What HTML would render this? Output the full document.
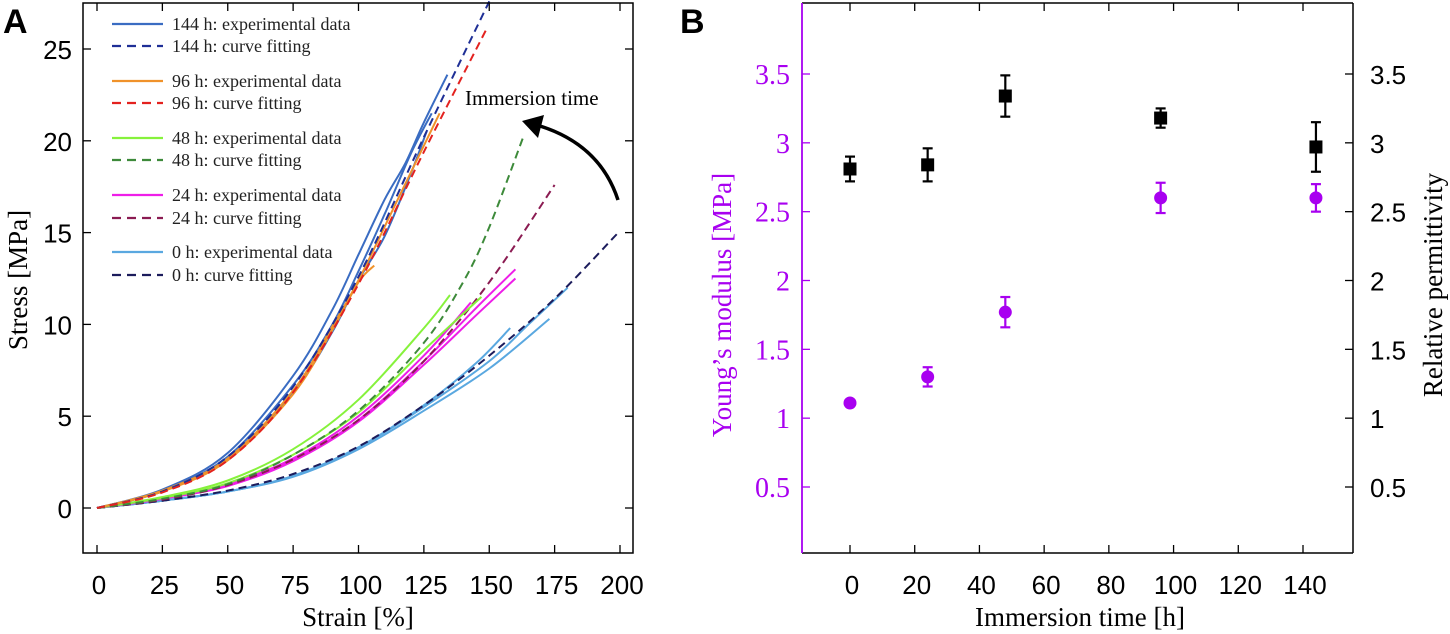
<!DOCTYPE html>
<html><head><meta charset="utf-8">
<style>
html,body{margin:0;padding:0;background:#fff;}
svg{display:block;}
.serif{font-family:"Liberation Serif",serif;}
.sans{font-family:"Liberation Sans",sans-serif;}
</style></head>
<body>
<svg id="fig" width="1450" height="634" viewBox="0 0 1450 634" xmlns="http://www.w3.org/2000/svg"></svg>
<script>
// ---------- Panel A data ----------
const aXTicks = [0,25,50,75,100,125,150,175,200];
const aYTicks = [0,5,10,15,20,25];
const s144a = [[0,0],[25,1.0],[50,3.0],[75,7.2],[90,10.8],[100,13.8],[110,16.8],[118,18.8],[125,21],[134,23.6]];
const s144b = [[0,0],[25,0.95],[50,2.8],[75,6.7],[90,10],[100,12.9],[110,16],[120,19.3],[128,21.5]];
const s144c = [[0,0],[25,0.9],[50,2.7],[75,6.3],[90,9.6],[100,12.4],[110,14.8],[120,18.2],[126,20.5]];
const f144 = [[0,0],[25,0.9],[50,2.8],[75,6.6],[100,12.6],[125,20.2],[150,27.6]];
const s96a = [[0,0],[25,0.95],[50,2.7],[75,6.4],[90,9.9],[100,12.4],[115,16.8],[131,21.5]];
const s96b = [[0,0],[25,0.9],[50,2.6],[75,6.2],[90,9.7],[100,12.3],[106,13.2]];
const f96 = [[0,0],[25,0.85],[50,2.6],[75,6.3],[100,12.2],[125,19.4],[149,26.1]];
const s48a = [[0,0],[25,0.6],[50,1.5],[75,3.2],[100,5.9],[125,9.8],[135,11.6]];
const s48b = [[0,0],[25,0.55],[50,1.35],[75,2.9],[100,5.2],[125,8.6],[147,11.5]];
const f48 = [[0,0],[25,0.5],[50,1.3],[75,2.9],[100,5.3],[125,9.0],[140,12.3],[150,15.3],[163,20.2]];
const s24a = [[0,0],[25,0.5],[50,1.3],[75,2.7],[100,5.0],[125,8.3],[143,11.2]];
const s24b = [[0,0],[25,0.5],[50,1.25],[75,2.6],[100,4.8],[125,8.0],[145,10.9],[160,13.0]];
const s24c = [[0,0],[25,0.5],[50,1.2],[75,2.55],[100,4.7],[125,7.8],[145,10.5],[160,12.5]];
const f24 = [[0,0],[25,0.45],[50,1.25],[75,2.65],[100,4.8],[125,8.0],[150,12.3],[175,17.6]];
const s0a = [[0,0],[25,0.4],[50,0.9],[75,1.7],[100,3.2],[125,5.3],[150,7.6],[173,10.3]];
const s0b = [[0,0],[25,0.4],[50,0.9],[75,1.75],[100,3.3],[125,5.6],[145,7.9],[158,9.8]];
const s0c = [[0,0],[25,0.4],[50,0.9],[75,1.75],[100,3.3],[125,5.5],[150,8.0],[165,10],[180,12]];
const f0 = [[0,0],[25,0.4],[50,0.95],[75,1.85],[100,3.35],[125,5.6],[150,8.3],[175,11.4],[200,15.1]];
// ---------- Panel B data ----------
const bXTicks = [0,20,40,60,80,100,120,140];
const bYTicks = [0.5,1,1.5,2,2.5,3,3.5];
const times = [0,24,48,96,144];
const modulus = [1.11,1.30,1.77,2.60,2.60];
const modulusErr = [0.02,0.07,0.11,0.11,0.10];
const permit = [2.81,2.84,3.34,3.18,2.97];
const permitErr = [0.09,0.12,0.15,0.07,0.18];

const NS='http://www.w3.org/2000/svg';
const svg=document.getElementById('fig');
function mk(tag,attrs,parent){const e=document.createElementNS(NS,tag);for(const k in attrs)e.setAttribute(k,attrs[k]);(parent||svg).appendChild(e);return e;}
function txt(s,attrs,parent){const e=mk('text',attrs,parent);e.textContent=s;return e;}

// ---- Panel A axes ----
const A={l:83,r:633,t:3,b:553};
const ax=v=>97+v*(620-97)/200;
const ay=v=>508-v*(508-49)/25;
const gA=mk('g',{});


aXTicks.forEach(t=>{
  mk('line',{x1:ax(t),x2:ax(t),y1:A.b,y2:A.b-8,stroke:'#000','stroke-width':1.3},gA);
  mk('line',{x1:ax(t),x2:ax(t),y1:A.t,y2:A.t+8,stroke:'#000','stroke-width':1.3},gA);
  const l=txt(String(t),{x:ax(t)+2,y:594,'text-anchor':'middle','font-size':26,class:'sans'},gA);
  
  
});
aYTicks.forEach(t=>{
  mk('line',{x1:A.l,x2:A.l+8,y1:ay(t),y2:ay(t),stroke:'#000','stroke-width':1.3},gA);
  mk('line',{x1:A.r,x2:A.r-8,y1:ay(t),y2:ay(t),stroke:'#000','stroke-width':1.3},gA);
  const l=txt(String(t),{x:72,y:ay(t)+10,'text-anchor':'end','font-size':26,class:'sans'},gA);
  
  
});
function smoothPath(pts){
  const P=pts.map(p=>[ax(p[0]),ay(p[1])]);
  let d='M'+P[0][0].toFixed(1)+' '+P[0][1].toFixed(1);
  for(let i=0;i<P.length-1;i++){
    const p0=P[i-1]||P[i],p1=P[i],p2=P[i+1],p3=P[i+2]||p2;
    const c1=[p1[0]+(p2[0]-p0[0])/6,p1[1]+(p2[1]-p0[1])/6];
    const c2=[p2[0]-(p3[0]-p1[0])/6,p2[1]-(p3[1]-p1[1])/6];
    d+=' C'+c1[0].toFixed(1)+' '+c1[1].toFixed(1)+' '+c2[0].toFixed(1)+' '+c2[1].toFixed(1)+' '+p2[0].toFixed(1)+' '+p2[1].toFixed(1);
  }
  return d;
}
function curve(pts,color,dash,w,name){
  const p=mk('path',{d:smoothPath(pts),fill:'none',stroke:color,'stroke-width':w||2,'stroke-dasharray':dash?'8 5':'none','stroke-linejoin':'round'},gA);
  
  
}
const C144='#3a6cc2',F144='#1f2f96',C96='#f0922a',F96='#e3221f',C48='#86f23c',F48='#3d8a3a',C24='#ee1ee8',F24='#8b1b52',C0='#5aa8e0',F0='#1c1c5c';
curve(s0a,C0,false,2,'curve-0h-exp');curve(s0b,C0,false,2,'curve-0h-exp');curve(s0c,C0,false,2,'curve-0h-exp');
curve(f0,F0,true,2,'curve-0h-fit');
curve(s24a,C24,false,2,'curve-24h-exp');curve(s24b,C24,false,2,'curve-24h-exp');curve(s24c,C24,false,2,'curve-24h-exp');
curve(f24,F24,true,2,'curve-24h-fit');
curve(s48a,C48,false,2,'curve-48h-exp');curve(s48b,C48,false,2,'curve-48h-exp');
curve(f48,F48,true,2,'curve-48h-fit');
curve(s144a,C144,false,2,'curve-144h-exp');curve(s144b,C144,false,2,'curve-144h-exp');curve(s144c,C144,false,2,'curve-144h-exp');
curve(s96a,C96,false,2,'curve-96h-exp');curve(s96b,C96,false,2,'curve-96h-exp');
curve(f144,F144,true,2,'curve-144h-fit');
curve(f96,F96,true,2,'curve-96h-fit');
mk('rect',{x:A.l,y:A.t,width:A.r-A.l,height:A.b-A.t,fill:'none',stroke:'#000','stroke-width':1.5},gA);
// legend
const legend=[['144 h: experimental data',C144,0],['144 h: curve fitting',F144,1],['96 h: experimental data',C96,0],['96 h: curve fitting',F96,1],['48 h: experimental data',C48,0],['48 h: curve fitting',F48,1],['24 h: experimental data',C24,0],['24 h: curve fitting',F24,1],['0 h: experimental data',C0,0],['0 h: curve fitting',F0,1]];
const legY=[24,46,81,103,138,160,195,218,252,275];
const gL=mk('g',{},gA);


legend.forEach((e,i)=>{
  const g=mk('g',{},gL);
  
  
  mk('line',{x1:112,x2:163,y1:legY[i],y2:legY[i],stroke:e[1],'stroke-width':2.2,'stroke-dasharray':e[2]?'9 6':'none'},g);
  txt(e[0],{x:172,y:legY[i]+6,'font-size':18,class:'serif',fill:'#222'},g);
});
const arr=mk('path',{d:'M618 200 Q600 145 540 126',fill:'none',stroke:'#000','stroke-width':3.5},gA);


mk('polygon',{points:'522,121 544,115 538,138',fill:'#000'},gA);
const it=txt('Immersion time',{x:465,y:105,'font-size':21,class:'serif'},gA);


const xt=txt('Strain [%]',{x:358,y:626,'text-anchor':'middle','font-size':27,class:'serif'},gA);


const yt=txt('Stress [MPa]',{x:0,y:0,'text-anchor':'middle','font-size':27,class:'serif',transform:'translate(27,280) rotate(-90)'},gA);


const la=txt('A',{x:3,y:33,'font-size':34,'font-weight':'bold',class:'sans'},gA);



// ---- Panel B ----
const B={l:802,r:1353,t:3,b:553};
const bx=v=>850+v*(1303-850)/140;
const by=v=>74+(3.5-v)*(487-74)/3;
const PUR='#a800f0';
const gB=mk('g',{});


bXTicks.forEach(t=>{
  mk('line',{x1:bx(t),x2:bx(t),y1:B.b,y2:B.b-8,stroke:'#000','stroke-width':1.3},gB);
  mk('line',{x1:bx(t),x2:bx(t),y1:B.t,y2:B.t+8,stroke:'#000','stroke-width':1.3},gB);
  const l=txt(String(t),{x:bx(t)+2,y:594,'text-anchor':'middle','font-size':26,class:'sans'},gB);
  
  
});
bYTicks.forEach(t=>{
  mk('line',{x1:B.l,x2:B.l+8,y1:by(t),y2:by(t),stroke:PUR,'stroke-width':1.3},gB);
  mk('line',{x1:B.r,x2:B.r-8,y1:by(t),y2:by(t),stroke:'#000','stroke-width':1.3},gB);
  const l=txt(String(t),{x:790,y:by(t)+10,'text-anchor':'end','font-size':28,class:'serif',fill:PUR},gB);
  
  
  const r=txt(String(t),{x:1370,y:by(t)+10,'text-anchor':'start','font-size':26,class:'sans'},gB);
  
  
});
mk('line',{x1:B.l,x2:B.r,y1:B.t,y2:B.t,stroke:'#000','stroke-width':1.5},gB);
mk('line',{x1:B.l,x2:B.r,y1:B.b,y2:B.b,stroke:'#000','stroke-width':1.5},gB);
mk('line',{x1:B.r,x2:B.r,y1:B.t,y2:B.b,stroke:'#000','stroke-width':1.5},gB);
mk('line',{x1:B.l,x2:B.l,y1:B.t,y2:B.b,stroke:PUR,'stroke-width':1.8},gB);
function errbar(x,y,e,col,g){
  mk('line',{x1:bx(x),x2:bx(x),y1:by(y-e),y2:by(y+e),stroke:col,'stroke-width':2.2},g);
  mk('line',{x1:bx(x)-5,x2:bx(x)+5,y1:by(y-e),y2:by(y-e),stroke:col,'stroke-width':2.2},g);
  mk('line',{x1:bx(x)-5,x2:bx(x)+5,y1:by(y+e),y2:by(y+e),stroke:col,'stroke-width':2.2},g);
}
times.forEach((t,i)=>{
  const g=mk('g',{},gB);
  
  
  errbar(t,modulus[i],modulusErr[i],PUR,g);
  mk('circle',{cx:bx(t),cy:by(modulus[i]),r:6.5,fill:PUR},g);
  const h=mk('g',{},gB);
  
  
  errbar(t,permit[i],permitErr[i],'#000',h);
  mk('rect',{x:bx(t)-6.5,y:by(permit[i])-6.5,width:13,height:13,fill:'#000'},h);
});
const bxt=txt('Immersion time [h]',{x:1080,y:626,'text-anchor':'middle','font-size':27,class:'serif'},gB);


const byl=txt('Young\u2019s modulus [MPa]',{x:0,y:0,'text-anchor':'middle','font-size':27,class:'serif',fill:PUR,transform:'translate(731,305) rotate(-90)'},gB);


const byr=txt('Relative permittivity',{x:0,y:0,'text-anchor':'middle','font-size':27,class:'serif',transform:'translate(1442,285) rotate(-90)'},gB);


const lb=txt('B',{x:680,y:33,'font-size':34,'font-weight':'bold',class:'sans'},gB);


</script>
</body></html>
